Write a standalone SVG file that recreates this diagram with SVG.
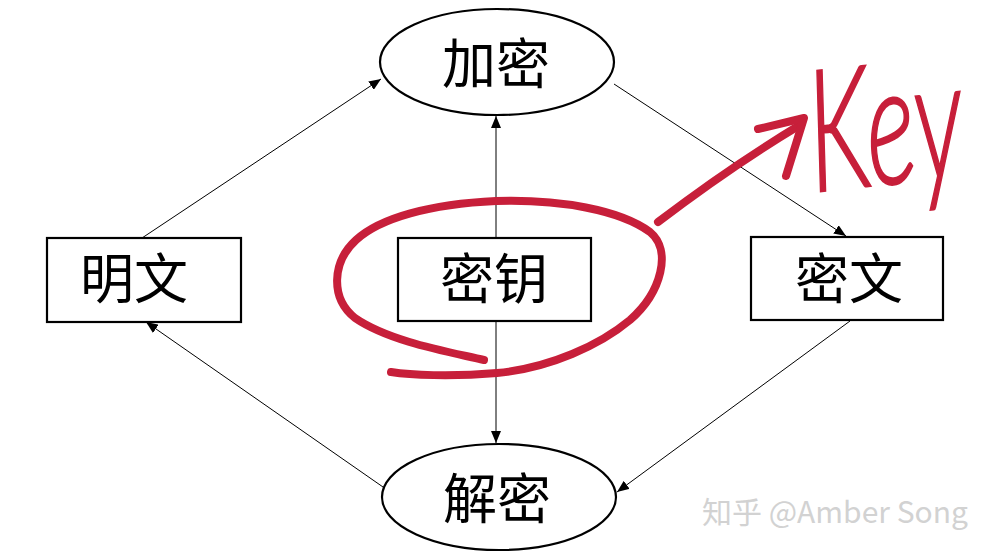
<svg xmlns="http://www.w3.org/2000/svg" width="991" height="557" viewBox="0 0 991 557">
<style>
.box{fill:#fff;stroke:#000;stroke-width:2.2}
.lbl{font-family:"Noto Sans CJK SC","Noto Sans",sans-serif;font-size:54px;fill:#000;text-anchor:middle}
.con{stroke:#000;stroke-width:1;fill:none}
.red{stroke:#c71f3a;stroke-width:8;fill:none;stroke-linecap:round;stroke-linejoin:round}
.wm{font-family:"Noto Sans CJK SC","Open Sans",sans-serif;font-size:30px;fill:#d2d2d2}
</style>
<defs>
<marker id="ah" viewBox="0 0 12 10" refX="12" refY="5" markerWidth="12" markerHeight="10" markerUnits="userSpaceOnUse" orient="auto">
<path d="M0,0 L12,5 L0,10 Z" fill="#000"/>
</marker>
</defs>
<rect width="991" height="557" fill="#fff"/>
<g id="connectors">
<line class="con" x1="142" y1="238" x2="381" y2="79" marker-end="url(#ah)"/>
<line class="con" x1="614" y1="84" x2="846" y2="236" marker-end="url(#ah)"/>
<line class="con" x1="850" y1="321" x2="617" y2="492" marker-end="url(#ah)"/>
<line class="con" x1="383" y1="487" x2="146" y2="322" marker-end="url(#ah)"/>
<line class="con" x1="496" y1="238" x2="496" y2="116" marker-end="url(#ah)"/>
<line class="con" x1="496" y1="321" x2="496" y2="443" marker-end="url(#ah)"/>
</g>
<g id="node-jiami">
<ellipse class="box" cx="497" cy="62" rx="117" ry="53"/>
<text class="lbl" x="496" y="84">加密</text>
</g>
<g id="node-mingwen">
<rect class="box" x="47" y="238" width="194" height="84"/>
<text class="lbl" x="134" y="299">明文</text>
</g>
<g id="node-miyao">
<rect class="box" x="398" y="238" width="193" height="83"/>
<text class="lbl" x="494" y="299">密钥</text>
</g>
<g id="node-miwen">
<rect class="box" x="751" y="237" width="192" height="83"/>
<text class="lbl" x="849" y="299">密文</text>
</g>
<g id="node-jiemi">
<ellipse class="box" cx="499" cy="497" rx="117" ry="53"/>
<text class="lbl" x="497" y="519">解密</text>
</g>
<g id="annotation">
<path class="red" d="M484,360 C450,352 390,342 355,318 C330,298 332,262 356,240 C380,218 430,204 496,201 C560,199 620,210 650,232 C672,250 662,292 630,320 C600,345 550,368 497,373 C450,377 410,375 391,372"/>
<path class="red" d="M658,222 C700,190 750,155 800,125"/>
<path class="red" d="M758,129 L804,118 L786,176"/>
<text x="0" y="0" transform="translate(814,192) rotate(-6) scale(1.05,1.7)" font-family="Lato, 'DejaVu Sans', sans-serif" font-style="italic" font-weight="300" font-size="100" fill="#c71f3a" stroke="#c71f3a" stroke-width="1.2">Key</text>
</g>
<text class="wm" x="702" y="523">知乎 @Amber Song</text>
</svg>
